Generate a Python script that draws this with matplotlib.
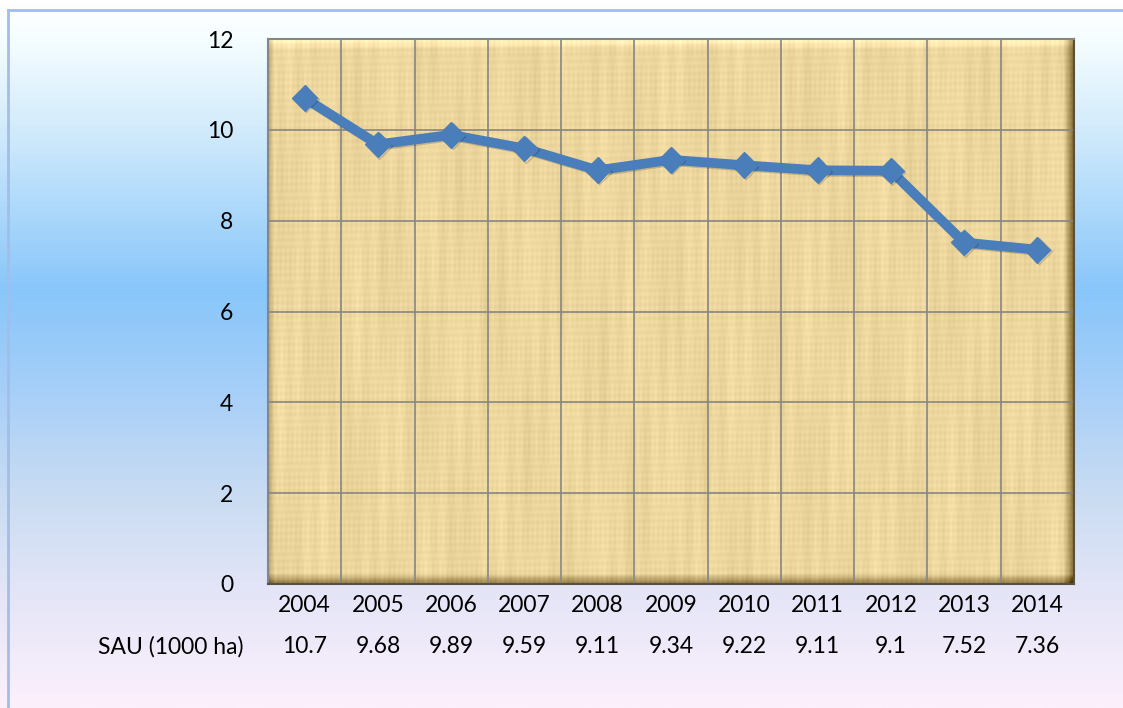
import numpy as np
import matplotlib
matplotlib.use('Agg')
import matplotlib.pyplot as plt
import matplotlib.patheffects as pe
from matplotlib.colors import LinearSegmentedColormap
from matplotlib.lines import Line2D

plt.rcParams['font.family'] = ['Lato', 'DejaVu Sans']

years = ['2004', '2005', '2006', '2007', '2008', '2009', '2010', '2011', '2012', '2013', '2014']
sau = [10.7, 9.68, 9.89, 9.59, 9.11, 9.34, 9.22, 9.11, 9.1, 7.52, 7.36]
row_label = 'SAU (1000 ha)'
y_ticks = [0, 2, 4, 6, 8, 10, 12]

fig = plt.figure(figsize=(11.23, 7.08), dpi=100)

# figure background gradient
bg = fig.add_axes([0, 0, 1, 1], zorder=-10)
bg_cmap = LinearSegmentedColormap.from_list('bg', [
    (0.0, '#ffffff'), (0.05, '#f6feff'), (0.18, '#d2ebfc'), (0.41, '#88c6fa'),
    (0.55, '#a6cff8'), (0.7, '#c9dcf2'), (0.85, '#e6e6f8'), (1.0, '#fcf0fc')])
grad = np.linspace(0, 1, 400).reshape(-1, 1)
bg.imshow(grad, aspect='auto', cmap=bg_cmap, extent=(0, 1, 0, 1), origin='upper')
bg.set_xlim(0, 1)
bg.set_ylim(0, 1)
bg.axis('off')
# outer frame (only left/top visible)
bg.add_line(Line2D([7.5 / 1123, 7.5 / 1123], [0, 1 - 9.5 / 708], color='#a4bde8', lw=2))
bg.add_line(Line2D([7.5 / 1123, 1], [1 - 9.5 / 708, 1 - 9.5 / 708], color='#a4bde8', lw=2))

ax = fig.add_axes([268 / 1123, 1 - 584 / 708, 806 / 1123, 545 / 708])
ax.set_xlim(-0.5, len(years) - 0.5)
ax.set_ylim(0, 12)

# parchment fill with bevel
h, w = 545, 806
yy, xx = np.mgrid[0:h, 0:w].astype(float)
tex = (5 * np.sin(xx * 0.37) * np.sin(yy * 0.011 + xx * 0.05)
       + 4 * np.sin(xx * 1.3 + yy * 0.02) * np.cos(yy * 0.07)
       + 3 * np.sin(yy * 0.9 + xx * 0.013)
       + 4 * np.cos(xx * 0.021 + yy * 0.017) * np.sin(xx * 0.09))
base = np.array([238, 215, 158], dtype=float)
img = base[None, None, :] + tex[..., None] * np.array([1.0, 1.0, 1.1])
shade = np.zeros((h, w))
bw = 10.0
shade += np.clip(1 - yy / bw, 0, 1) * 35          # light top edge
shade -= np.clip(1 - (w - 1 - xx) / bw, 0, 1) * 110  # dark right edge
shade -= np.clip(1 - (h - 1 - yy) / bw, 0, 1) * 90   # dark bottom edge
shade -= np.clip(1 - xx / 6, 0, 1) * 50              # left edge
img = img + shade[..., None]
img = np.clip(img, 0, 255) / 255
ax.imshow(img, extent=(-0.5, len(years) - 0.5, 0, 12), aspect='auto', zorder=0, origin='upper')

# grid
for i in range(1, len(years)):
    ax.axvline(i - 0.5, color='#868686', lw=1.2, zorder=1)
for t in y_ticks[1:-1]:
    ax.axhline(t, color='#868686', lw=1.2, zorder=1)

for s in ['top', 'left']:
    ax.spines[s].set_color('#868686')
    ax.spines[s].set_linewidth(1.5)
for s in ['right', 'bottom']:
    ax.spines[s].set_color('#5a5040')
    ax.spines[s].set_linewidth(1.5)

x = np.arange(len(years))
ax.plot(x, sau, color='#4a7ebb', lw=7, marker='D', ms=13, zorder=3,
        solid_joinstyle='round',
        path_effects=[pe.SimpleLineShadow(offset=(1, -1), alpha=0.18), pe.Normal()])

ax.set_yticks(y_ticks)
ax.set_yticklabels([str(t) for t in y_ticks], fontsize=16.5)
ax.set_xticks(x)
ax.set_xticklabels(years, fontsize=16.5)
ax.tick_params(axis='y', length=0, pad=25)
ax.tick_params(axis='x', length=0, pad=8)

# data table row
ax.text(-0.031, -0.115, row_label, transform=ax.transAxes, ha='right', va='center', fontsize=16.5)
tr = ax.get_xaxis_transform()
for xi, v in zip(x, sau):
    ax.text(xi, -0.115, f'{v:g}', transform=tr, ha='center', va='center', fontsize=16.5)

fig.savefig('out.png', dpi=100)
